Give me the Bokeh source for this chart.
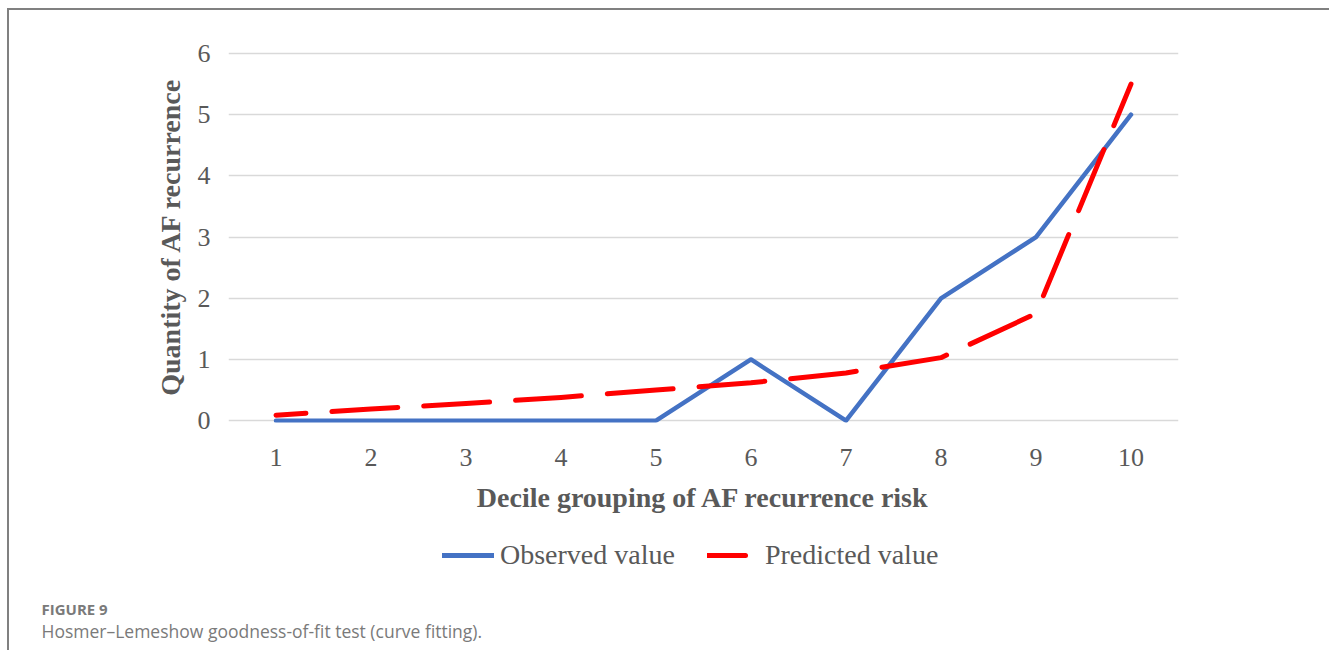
from bokeh.plotting import figure
from bokeh.layouts import column
from bokeh.models import FactorRange, Range1d, Legend, LegendItem, Label, FixedTicker
from bokeh.embed import file_html
from bokeh.resources import INLINE

groups = ["1", "2", "3", "4", "5", "6", "7", "8", "9", "10"]
observed = [0, 0, 0, 0, 0, 1, 0, 2, 3, 5]
predicted = [0.09, 0.19, 0.28, 0.38, 0.50, 0.62, 0.78, 1.03, 1.75, 5.50]
y_ticks = [0, 1, 2, 3, 4, 5, 6]

x_title = "Decile grouping of AF recurrence risk"
y_title = "Quantity of AF recurrence"
series_names = ["Observed value", "Predicted value"]
fig_label = "FIGURE 9"
caption = "Hosmer\u2013Lemeshow goodness-of-fit test (curve fitting)."

SERIF = "Liberation Serif"
TXT = "#595959"
BLUE = "#4472C4"
RED = "#FF0000"

# ---------------- chart ----------------
p = figure(width=1320, height=512,
           x_range=FactorRange(*groups), y_range=Range1d(-0.03, 6.05),
           output_backend="svg", toolbar_location=None,
           min_border_left=219, min_border_right=151,
           min_border_top=40, min_border_bottom=100)
p.outline_line_color = None

p.xgrid.grid_line_color = None
p.yaxis.ticker = FixedTicker(ticks=y_ticks)
p.ygrid.grid_line_color = "#D9D9D9"
p.ygrid.grid_line_width = 1.5

for ax in (p.xaxis, p.yaxis):
    ax.axis_line_color = None
    ax.major_tick_line_color = None
    ax.minor_tick_line_color = None
    ax.major_label_text_font = SERIF
    ax.major_label_text_font_size = "26px"
    ax.major_label_text_color = TXT
    ax.axis_label_text_font = SERIF
    ax.axis_label_text_font_size = "28px"
    ax.axis_label_text_font_style = "bold"
    ax.axis_label_text_color = TXT
p.xaxis.axis_label = x_title
p.yaxis.axis_label = y_title
p.xaxis.major_label_standoff = 20
p.xaxis.axis_label_standoff = 13
p.yaxis.major_label_standoff = 12
p.yaxis.axis_label_standoff = 9

p.line(groups, observed, line_color=BLUE, line_width=4.5,
       line_join="round", line_cap="round")
p.line(groups, predicted, line_color=RED, line_width=5, line_dash="66 26",
       line_dash_offset=36, line_join="round", line_cap="round")

# ---------------- legend + caption strip ----------------
# same series, drawn into a y-window where they are out of view, only to feed the legend keys
q = figure(width=1320, height=128, x_range=FactorRange(*groups), y_range=Range1d(-20, -19),
           output_backend="svg", toolbar_location=None,
           x_axis_location=None, y_axis_location=None, min_border=0)
if "frame_align" in q.properties():
    q.frame_align = False
q.outline_line_color = None
q.grid.visible = False

obs_key = q.line(groups, observed, line_color=BLUE, line_width=5, line_cap="round")
pred_key = q.line(groups, predicted, line_color=RED, line_width=5, line_dash="66 26",
                  line_dash_offset=28, line_cap="round")

legend = Legend(items=[LegendItem(label=series_names[0], renderers=[obs_key]),
                       LegendItem(label=series_names[1], renderers=[pred_key])],
                orientation="horizontal", location=(433, 79),
                border_line_color=None, background_fill_alpha=0,
                label_text_font=SERIF, label_text_font_size="28px", label_text_color=TXT,
                glyph_width=52, spacing=32, label_standoff=6, margin=0, padding=8)
q.add_layout(legend, "center")

q.add_layout(Label(text=fig_label, x=32, y=42, x_units="screen", y_units="screen",
                   text_font="Open Sans", text_font_size="15px", text_font_style="bold",
                   text_color="#7a7a7a", text_baseline="middle"))
q.add_layout(Label(text=caption, x=32, y=20, x_units="screen", y_units="screen",
                   text_font="Open Sans", text_font_size="17.5px",
                   text_color="#7a7a7a", text_baseline="middle"))

page = column(p, q, spacing=0,
              styles={"margin-left": "7px", "margin-top": "8px",
                      "border-top": "2px solid #808080",
                      "border-left": "2px solid #808080"})

open("out.html", "w").write(file_html(page, INLINE))
